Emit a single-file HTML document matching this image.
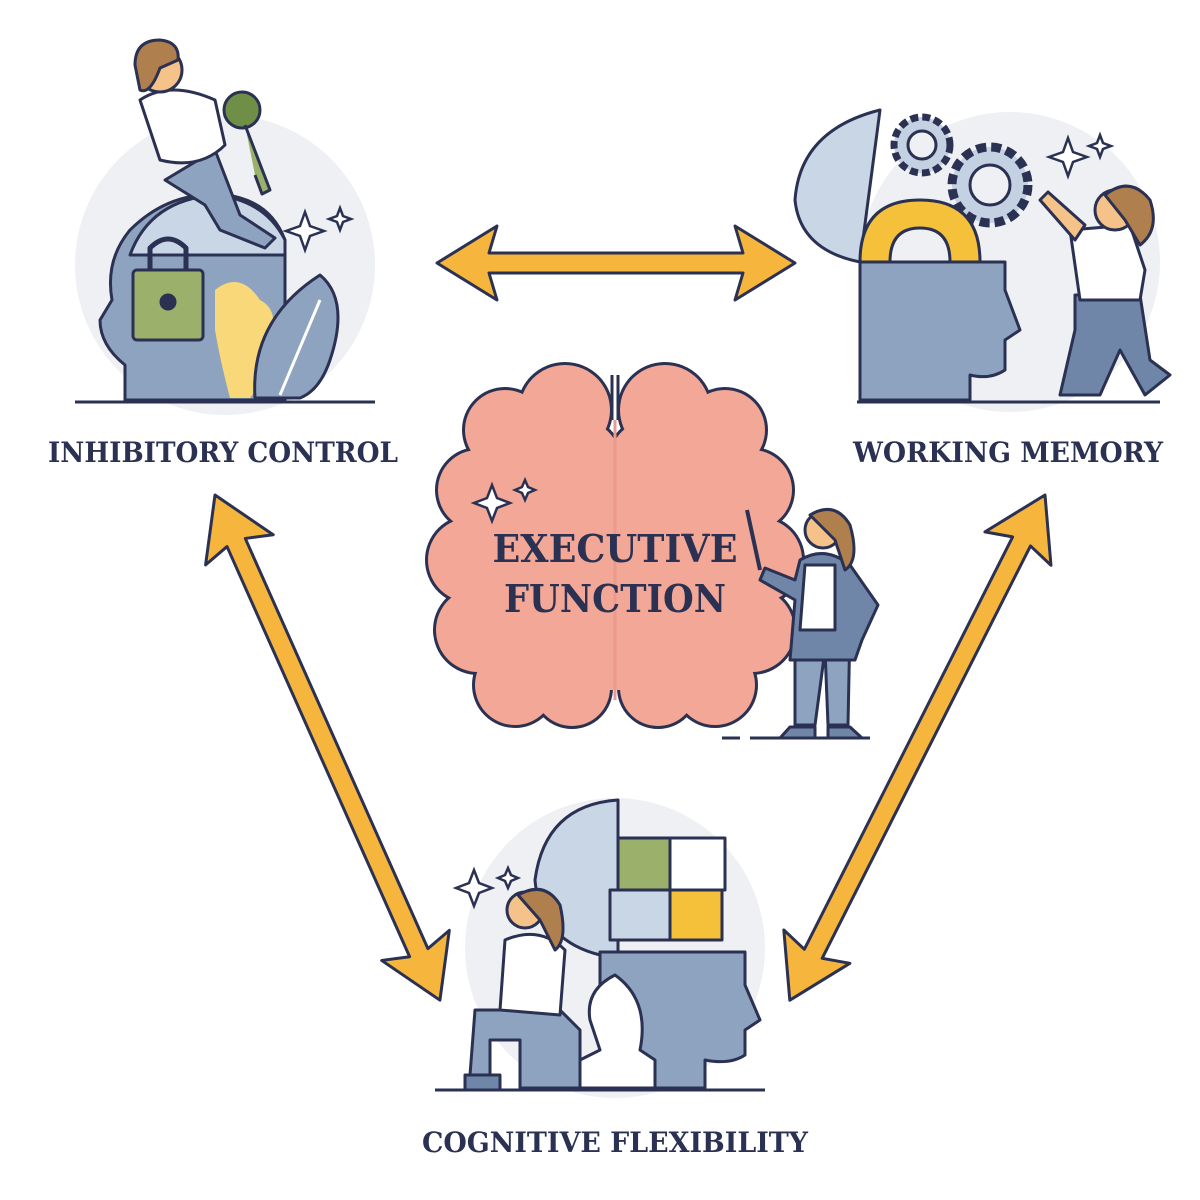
<!DOCTYPE html>
<html><head><meta charset="utf-8"><style>
html,body{margin:0;padding:0;background:#fff;}
svg{display:block}
text{font-family:"DejaVu Serif","Liberation Serif",serif;font-weight:bold;fill:#2b3152}
</style></head><body>
<svg width="1200" height="1200" viewBox="0 0 1200 1200" xmlns="http://www.w3.org/2000/svg">
<!-- circles -->
<circle cx="225" cy="265" r="150" fill="#eef0f4"/>
<circle cx="1010" cy="262" r="150" fill="#eef0f4"/>
<circle cx="615" cy="948" r="150" fill="#eef0f4"/>

<!-- baselines -->
<g stroke="#2b3152" stroke-width="3">
<line x1="75" y1="402" x2="375" y2="402"/>
<line x1="857" y1="402" x2="1160" y2="402"/>
<line x1="435" y1="1090" x2="765" y2="1090"/>
<line x1="722" y1="738" x2="740" y2="738"/>
<line x1="750" y1="738" x2="870" y2="738"/>
</g>

<!-- arrows -->
<g fill="#f6b63e" stroke="#2b3152" stroke-width="3" stroke-linejoin="round">
<polygon transform="translate(437,263)" points="0,0 60,-37 52,-10 306,-10 298,-37 358,0 298,37 306,10 52,10 60,37"/>
<polygon transform="translate(215,495) rotate(66)" points="0,0 60,-37 52,-10 501,-10 493,-37 553,0 493,37 501,10 52,10 60,37"/>
<polygon transform="translate(1045,495) rotate(116.8)" points="0,0 60,-37 52,-10 514,-10 506,-37 566,0 506,37 514,10 52,10 60,37"/>
</g>

<!-- TOP LEFT: head with lock -->
<g stroke="#2b3152" stroke-width="3" stroke-linejoin="round">
<path d="M125,400 L125,365 Q100,345 100,320 L112,300 Q105,260 130,230 Q170,190 225,195 Q270,200 285,240 L285,400 Z" fill="#8ea3c0"/>
<path d="M130,255 Q150,200 215,195 Q265,200 285,240 L285,255 Z" fill="#c9d6e6"/>
<rect x="133" y="270" width="70" height="70" rx="4" fill="#9bb06a"/>
<path d="M150,270 L150,248 Q168,230 186,248 L186,270" fill="none" stroke-width="5"/>
<circle cx="168" cy="302" r="7" fill="#2b3152"/>
<path d="M215,290 Q240,270 260,300 Q280,310 270,340 Q265,380 250,398 L230,398 Q220,360 215,330 Z" fill="#f8d878" stroke="none"/>
<path d="M255,398 Q250,320 320,275 Q350,300 330,360 Q320,390 300,398 Z" fill="#8ea3c0"/>
<path d="M280,395 L320,300" fill="none" stroke="#fff"/>
<path d="M165,180 L215,150 L240,215 L275,238 L265,248 L220,230 L205,205 Z" fill="#8ea3c0"/>
<path d="M140,100 Q170,80 215,100 L225,145 Q200,170 160,160 Z" fill="#fff"/>
<circle cx="160" cy="70" r="22" fill="#f5c38a"/>
<path d="M135,65 Q135,40 160,40 Q180,42 178,60 L160,68 Q150,95 140,90 Z" fill="#b07f4e"/>
<circle cx="242" cy="110" r="18" fill="#6f8f47"/>
<path d="M245,125 L270,190 L262,194 L255,175" fill="#9bb06a"/>
</g>
<g fill="#fff" stroke="#2b3152" stroke-width="2.5">
<path d="M305,212 L310,226 L324,231 L310,236 L305,250 L300,236 L286,231 L300,226 Z"/>
<path d="M340,208 L343,216 L351,219 L343,222 L340,230 L337,222 L329,219 L337,216 Z"/>
</g>

<!-- TOP RIGHT -->
<g stroke="#2b3152" stroke-width="3" stroke-linejoin="round">
<path d="M880,110 Q800,130 795,200 Q800,250 860,262 Z" fill="#c9d6e6"/>
<circle cx="922" cy="145" r="28" fill="#c3d1e3" stroke-dasharray="8 4" stroke-width="7"/>
<circle cx="922" cy="145" r="14" fill="#eef0f4"/>
<circle cx="990" cy="185" r="38" fill="#c3d1e3" stroke-dasharray="10 5" stroke-width="9"/>
<circle cx="990" cy="185" r="20" fill="#eef0f4"/>
<path d="M860,262 Q860,200 920,200 Q980,200 980,262 Z" fill="#f5c03a"/>
<path d="M890,262 Q890,228 920,228 Q950,228 950,262 Z" fill="#eef0f4"/>
<path d="M860,262 L1005,262 L1005,290 L1020,330 L1005,340 L1005,370 Q990,380 970,375 L970,400 L860,400 Z" fill="#8ea3c0"/>
<path d="M1075,295 L1140,295 L1150,360 L1170,375 L1145,395 L1120,350 L1100,395 L1060,395 L1075,330 Z" fill="#6f86a8"/>
<path d="M1070,230 L1130,225 L1145,270 L1140,300 L1080,300 Z" fill="#fff"/>
<path d="M1075,240 L1040,200 L1048,192 L1085,225 Z" fill="#f5c38a"/>
<circle cx="1115" cy="210" r="20" fill="#f5c38a"/>
<path d="M1105,195 Q1130,175 1150,200 Q1160,230 1140,245 L1125,220 Z" fill="#b07f4e"/>
</g>
<g fill="#fff" stroke="#2b3152" stroke-width="2.5">
<path d="M1068,138 L1073,152 L1087,157 L1073,162 L1068,176 L1063,162 L1049,157 L1063,152 Z"/>
<path d="M1100,135 L1103,143 L1111,146 L1103,149 L1100,157 L1097,149 L1089,146 L1097,143 Z"/>
</g>

<!-- BRAIN -->
<g fill="#f0a393" stroke="#2b3152" stroke-width="6">
<circle cx="565" cy="410" r="45"/><circle cx="505" cy="430" r="40"/><circle cx="478" cy="490" r="40"/>
<circle cx="470" cy="560" r="42"/><circle cx="478" cy="630" r="42"/><circle cx="515" cy="685" r="40"/>
<circle cx="572" cy="688" r="38"/><circle cx="580" cy="460" r="40"/>
<circle cx="665" cy="410" r="45"/><circle cx="725" cy="430" r="40"/><circle cx="752" cy="490" r="40"/>
<circle cx="760" cy="560" r="42"/><circle cx="752" cy="630" r="42"/><circle cx="715" cy="685" r="40"/>
<circle cx="658" cy="688" r="38"/><circle cx="650" cy="460" r="40"/>
</g>
<g fill="#f2a797">
<circle cx="565" cy="410" r="45"/><circle cx="505" cy="430" r="40"/><circle cx="478" cy="490" r="40"/>
<circle cx="470" cy="560" r="42"/><circle cx="478" cy="630" r="42"/><circle cx="515" cy="685" r="40"/>
<circle cx="572" cy="688" r="38"/><circle cx="580" cy="460" r="40"/>
<circle cx="665" cy="410" r="45"/><circle cx="725" cy="430" r="40"/><circle cx="752" cy="490" r="40"/>
<circle cx="760" cy="560" r="42"/><circle cx="752" cy="630" r="42"/><circle cx="715" cy="685" r="40"/>
<circle cx="658" cy="688" r="38"/><circle cx="650" cy="460" r="40"/>
<ellipse cx="545" cy="560" rx="75" ry="130"/><ellipse cx="685" cy="560" rx="75" ry="130"/>
<rect x="560" y="440" width="110" height="250"/>
</g>
<line x1="612" y1="375" x2="612" y2="420" stroke="#2b3152" stroke-width="3"/>
<line x1="618" y1="375" x2="618" y2="420" stroke="#2b3152" stroke-width="3"/>
<line x1="615" y1="420" x2="615" y2="700" stroke="#eb9a8c" stroke-width="3"/>
<g fill="#fff" stroke="#2b3152" stroke-width="2.5">
<path d="M492,485 L497,498 L510,503 L497,508 L492,521 L487,508 L474,503 L487,498 Z"/>
<path d="M525,480 L528,487 L535,490 L528,493 L525,500 L522,493 L515,490 L522,487 Z"/>
</g>
<text x="615" y="562" font-size="38" text-anchor="middle" textLength="245" lengthAdjust="spacingAndGlyphs">EXECUTIVE</text>
<text x="615" y="612" font-size="38" text-anchor="middle" textLength="222" lengthAdjust="spacingAndGlyphs">FUNCTION</text>

<!-- presenter -->
<g stroke="#2b3152" stroke-width="3" stroke-linejoin="round">
<path d="M795,625 L850,625 L848,725 L828,725 L825,650 L815,725 L795,725 Z" fill="#8ea3c0"/>
<path d="M800,560 Q825,545 850,565 L878,605 L862,640 L855,660 L790,660 L795,600 L760,580 L765,568 L795,580 Z" fill="#6f86a8"/>
<path d="M805,565 L835,565 L835,630 L800,630 Z" fill="#fff"/>
<circle cx="823" cy="530" r="18" fill="#f5c38a"/>
<path d="M810,515 Q835,500 850,525 Q860,560 845,570 L835,540 Z" fill="#b07f4e"/>
<line x1="747" y1="510" x2="760" y2="570" stroke-width="4"/>
<path d="M790,727 L815,727 L815,738 L780,738 Z M828,727 L850,727 L862,738 L828,738 Z" fill="#6f86a8"/>
</g>

<!-- BOTTOM -->
<g stroke="#2b3152" stroke-width="3" stroke-linejoin="round">
<path d="M618,800 Q545,805 535,880 Q540,940 600,955 L618,955 Z" fill="#c9d6e6"/>
<rect x="618" y="838" width="52" height="52" fill="#9bb06a"/>
<rect x="670" y="838" width="55" height="52" fill="#fff"/>
<rect x="610" y="890" width="60" height="50" fill="#c9d6e6"/>
<rect x="670" y="890" width="52" height="50" fill="#f5c03a"/>
<path d="M600,952 L745,952 L745,985 L760,1020 L745,1030 L745,1055 Q730,1065 705,1060 L705,1088 L600,1088 Z" fill="#8ea3c0"/>
<path d="M580,1088 L655,1088 L655,1060 L640,1050 Q650,1000 615,975 Q585,990 590,1020 L600,1050 L580,1060 Z" fill="#fff"/>
<path d="M475,1010 L560,1010 L580,1030 L580,1088 L520,1088 L520,1040 L490,1040 L490,1075 L470,1075 Z" fill="#8ea3c0"/>
<path d="M505,940 Q540,925 565,950 L560,1015 L500,1010 Z" fill="#fff"/>
<circle cx="525" cy="910" r="18" fill="#f5c38a"/>
<path d="M518,895 Q545,880 560,905 Q568,940 555,950 L540,920 Z" fill="#b07f4e"/>
<path d="M465,1075 L500,1075 L500,1090 L465,1090 Z" fill="#6f86a8"/>
</g>
<g fill="#fff" stroke="#2b3152" stroke-width="2.5">
<path d="M474,870 L479,883 L492,888 L479,893 L474,906 L469,893 L456,888 L469,883 Z"/>
<path d="M508,868 L511,875 L518,878 L511,881 L508,888 L505,881 L498,878 L505,875 Z"/>
</g>

<text x="48" y="462" font-size="28" textLength="350" lengthAdjust="spacingAndGlyphs">INHIBITORY CONTROL</text>
<text x="853" y="462" font-size="28" textLength="310" lengthAdjust="spacingAndGlyphs">WORKING MEMORY</text>
<text x="422" y="1152" font-size="28" textLength="386" lengthAdjust="spacingAndGlyphs">COGNITIVE FLEXIBILITY</text>
</svg>
</body></html>
